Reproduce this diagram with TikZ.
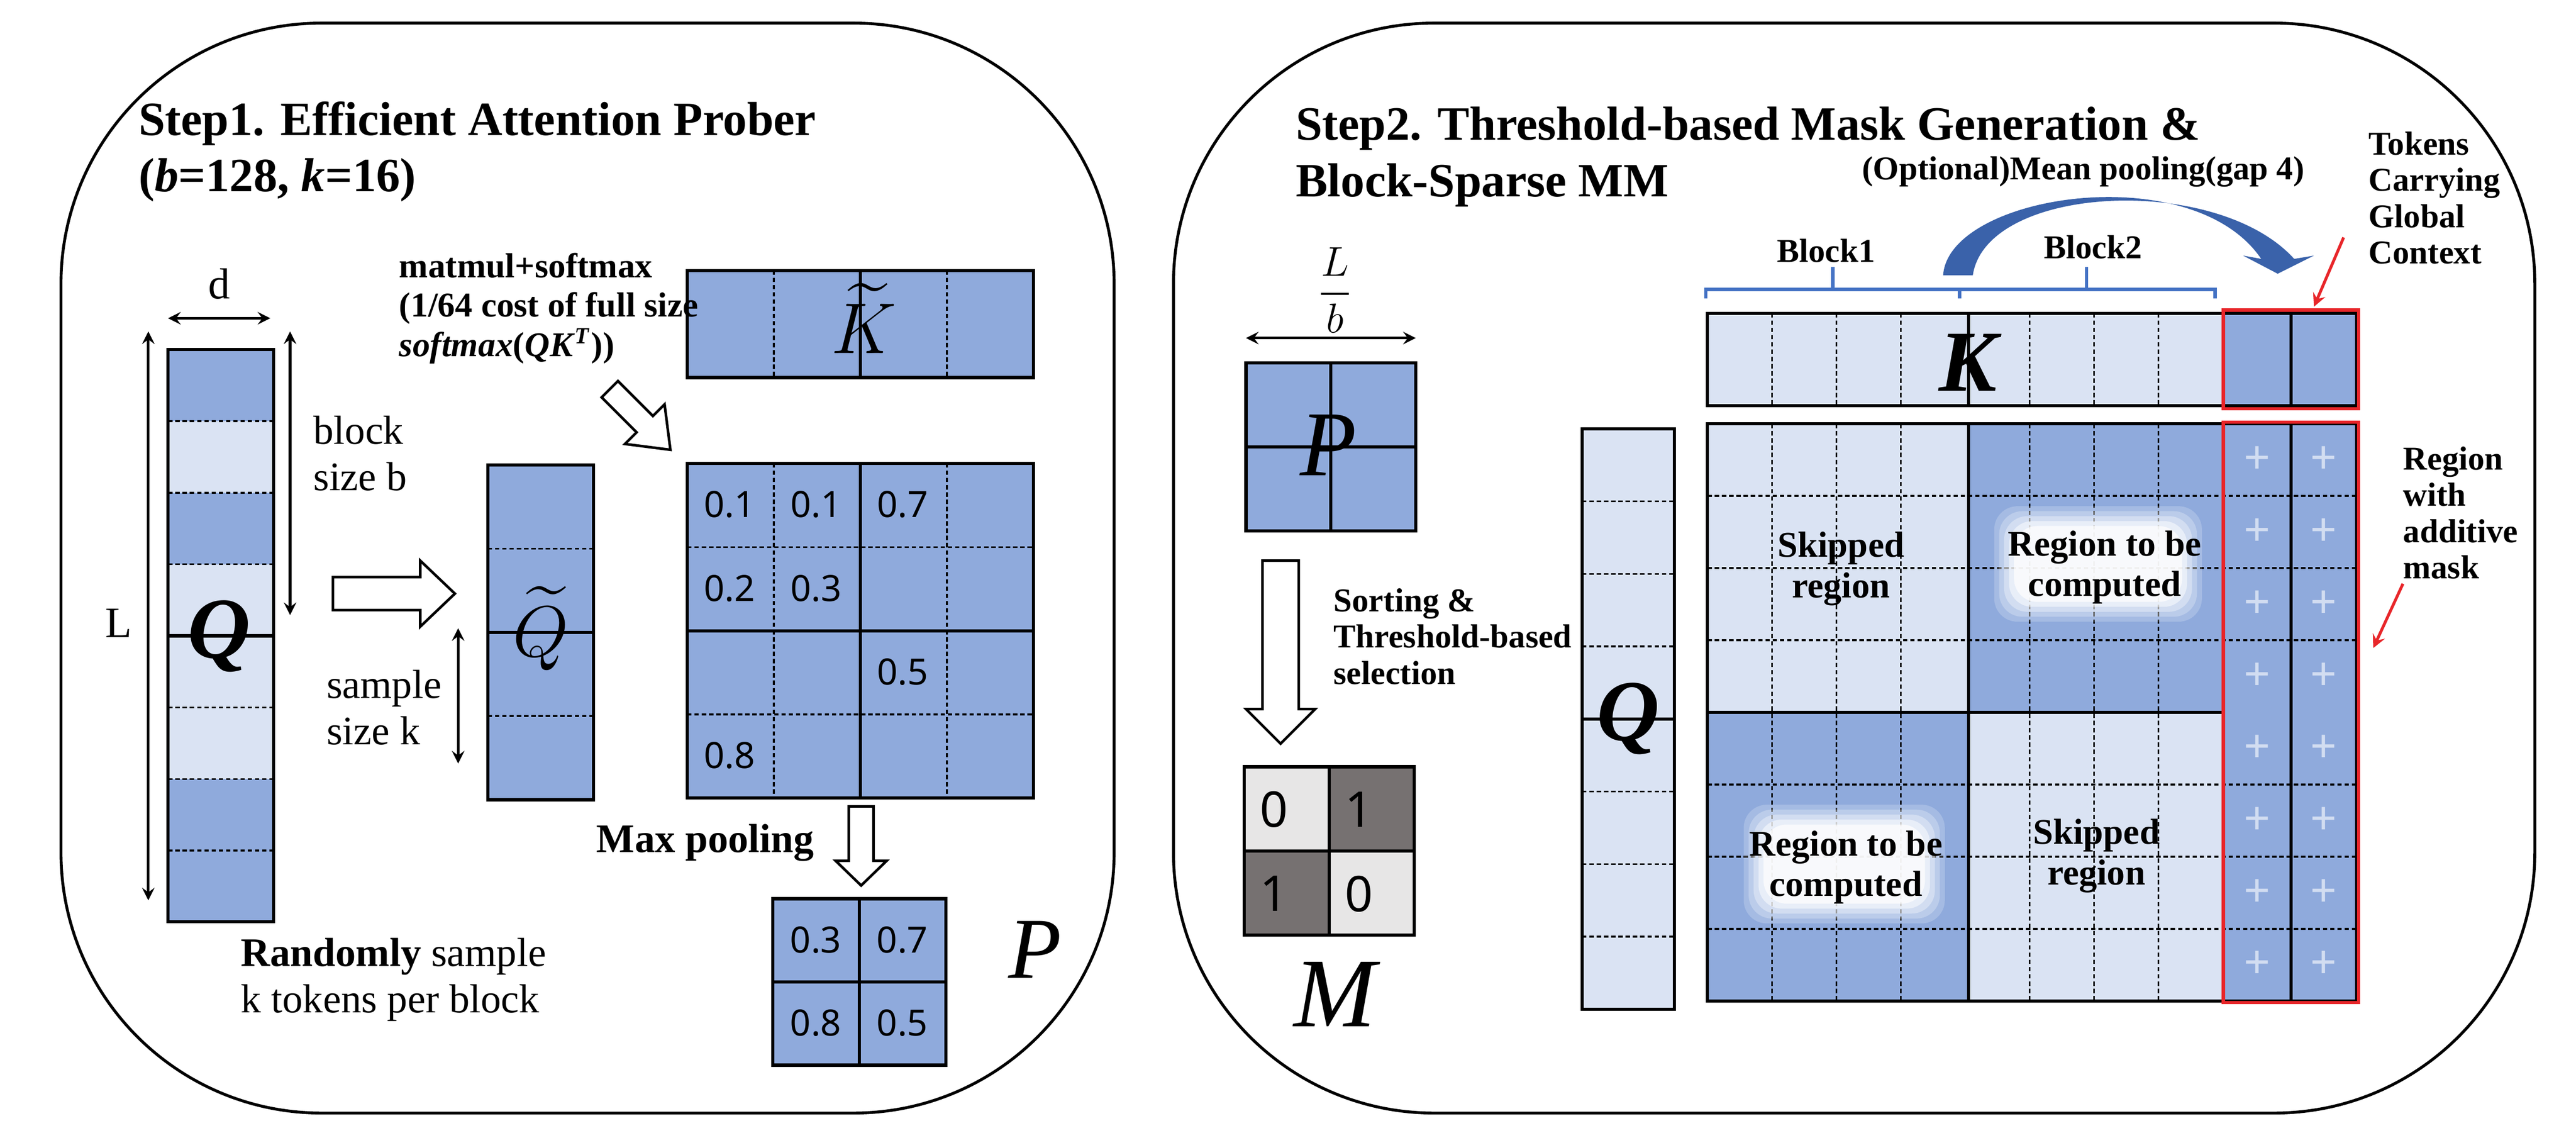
\documentclass[tikz,border=0pt]{standalone}
\usepackage{amsmath}
\usepackage{fontspec}
\setmainfont{Liberation Serif}
\newfontfamily\numf{Noto Sans}
\definecolor{dk}{HTML}{8FAADC}
\definecolor{lt}{HTML}{DAE3F3}
\definecolor{mlt}{HTML}{E7E6E6}
\definecolor{mdk}{HTML}{767171}
\definecolor{rd}{HTML}{E8262A}
\definecolor{bb}{HTML}{4472C4}
\definecolor{arc}{HTML}{3A62AA}
\tikzset{
 bf/.style 2 args={font=\bfseries\fontsize{#1}{#2}\selectfont},
 big/.style={font=\bfseries\itshape\fontsize{#1}{#1}\selectfont},
 cell/.style={draw=black,line width=0.6pt,dashed,dash pattern=on 1.5pt off 1pt},
 solid line/.style={draw=black,line width=1.1pt},
 num/.style={font=\numf\fontsize{12.5}{14}\selectfont},
 lab/.style={font=\fontsize{14}{16}\selectfont,align=left,anchor=west},
 blab/.style={font=\bfseries\fontsize{12.5}{14}\selectfont,align=center},
 dim/.style={<->,>=stealth,line width=0.9pt},
 hollow/.style={draw=black,fill=white,line width=0.9pt,line join=miter},
 panel/.style={draw=black,line width=1pt,rounded corners=90}
}
\begin{document}
\begin{tikzpicture}[x=0.02cm,y=-0.02cm]
\useasboundingbox (0,0) rectangle (1563,687);
% panels
\draw[panel] (37,14) rectangle (676,675);
\draw[panel] (712,14) rectangle (1538,675);
%================ STEP 1
\node[bf={16.5}{19.5},align=left,anchor=west] (t1) at (78,92) {Step1. Efficient Attention Prober\\(\textit{b}=128, \textit{k}=16)};
% Q column
\foreach \i/\c in {0/dk,1/lt,2/dk,3/lt,4/lt,5/lt,6/dk,7/dk}{
  \fill[\c] (102,212+43.4*\i) rectangle (166,212+43.4*\i+43.4);}
\foreach \i in {1,2,3,5,6,7}{\draw[cell] (102,212+43.4*\i) -- (166,212+43.4*\i);}
\draw[solid line] (102,385.6) -- (166,385.6);
\draw[line width=1.1pt] (102,212) rectangle (166,559);
\node[big=30] (q1) at (133,386) {Q};
\coordinate (dl) at (102,193); \coordinate (dr) at (164,193);
\draw[dim] (dl) -- (dr);
\node[font=\fontsize{15}{16}\selectfont] (d) at (133,172) {d};
\coordinate (La) at (90,201); \coordinate (Lb) at (90,546);
\draw[dim] (La) -- (Lb);
\node[font=\fontsize{15}{16}\selectfont] (L) at (72,378) {L};
\coordinate (ba) at (176,201); \coordinate (bb) at (176,373);
\draw[dim] (ba) -- (bb);
\node[lab] (bs) at (184,275) {block\\size b};
\coordinate (sa) at (278,381); \coordinate (sb) at (278,463);
\draw[dim] (sa) -- (sb);
\node[lab] (ss) at (192,429) {sample\\size k};
% big right arrow
\draw[hollow] (202,350) -- (255,350) -- (255,340) -- (276,360) -- (255,380) -- (255,370) -- (202,370) -- cycle;
% Q tilde
\fill[dk] (296,282) rectangle (360,485);
\foreach \i in {1,3}{\draw[cell] (296,282+50.75*\i) -- (360,282+50.75*\i);}
\draw[solid line] (296,383.5) -- (360,383.5);
\draw[line width=1.1pt] (296,282) rectangle (360,485);
\node[font=\fontsize{32}{32}\selectfont] (qt) at (328,381) {$\widetilde{Q}$};
% K tilde
\fill[dk] (417,164) rectangle (627,229);
\foreach \j in {1,3}{\draw[cell] (417+52.5*\j,164) -- (417+52.5*\j,229);}
\draw[solid line] (522,164) -- (522,229);
\draw[line width=1.1pt] (417,164) rectangle (627,229);
\node[font=\fontsize{32}{32}\selectfont] (kt) at (524,193) {$\widetilde{K}$};
% attention matrix
\fill[dk] (417,281) rectangle (627,484);
\foreach \j in {1,3}{\draw[cell] (417+52.5*\j,281) -- (417+52.5*\j,484);
  \draw[cell] (417,281+50.75*\j) -- (627,281+50.75*\j);}
\draw[solid line] (522,281) -- (522,484);
\draw[solid line] (417,382.5) -- (627,382.5);
\draw[line width=1.1pt] (417,281) rectangle (627,484);
\foreach \r/\c/\v in {0/0/0.1,0/1/0.1,0/2/0.7,1/0/0.2,1/1/0.3,2/2/0.5,3/0/0.8}{
  \node[num,anchor=west] (a\r\c) at (421+52.5*\c,306+50.75*\r) {\v};}
\node[bf={12}{13.6},align=left,anchor=west] (mm) at (236,187) {matmul+softmax\\(1/64 cost of full size\\\textit{softmax}(\textit{QK}\textsuperscript{\textit{T}}))};
% diagonal arrow
\begin{scope}[shift={(370,236)},rotate=-45]
\draw[hollow] (0,-7) -- (30,-7) -- (30,-17) -- (52,0) -- (30,17) -- (30,7) -- (0,7) -- cycle;
\end{scope}
% max pooling arrow
\draw[hollow] (515,489) -- (530,489) -- (530,522) -- (538,522) -- (522.5,537) -- (507,522) -- (515,522) -- cycle;
\node[bf={14}{15},anchor=east] (mp) at (500,511) {Max pooling};
% P
\fill[dk] (469,545) rectangle (574,646);
\draw[line width=1.1pt] (469,545) rectangle (574,646);
\draw[solid line] (521.5,545) -- (521.5,646);
\draw[solid line] (469,595.5) -- (574,595.5);
\foreach \r/\c/\v in {0/0/0.3,0/1/0.7,1/0/0.8,1/1/0.5}{
  \node[num] (p\r\c) at (495+52.5*\c,570+50.5*\r) {\v};}
\node[font=\itshape\fontsize{30}{30}\selectfont] (Pl) at (628,576) {P};
\node[lab] (rs) at (140,594) {\textbf{Randomly} sample\\k tokens per block};
%================ STEP 2
\node[bf={16.5}{19.5},align=left,anchor=west] (t2) at (780,95) {Step2. Threshold-based Mask Generation \&\\Block-Sparse MM};
\node[bf={11.5}{12}] (op) at (1264,104) {(Optional)Mean pooling(gap 4)};
\node[bf={11.5}{12.5},align=left,anchor=west] (tok) at (1431,120) {Tokens\\Carrying\\Global\\Context};
\node[bf={11.5}{12}] (b1) at (1108,152) {Block1};
\node[bf={11.5}{12}] (b2) at (1270,150) {Block2};
\draw[bb,line width=1.2pt] (1035,181) -- (1035,175.5) -- (1344,175.5) -- (1344,181);
\draw[bb,line width=1.2pt] (1189,181) -- (1189,175.5);
\draw[bb,line width=1.2pt] (1112,175.5) -- (1112,162);
\draw[bb,line width=1.2pt] (1266,175.5) -- (1266,162);
% curved arrow
\fill[arc] (1179,167) .. controls (1182,118) and (1330,95) .. (1372,157) -- (1361,155) -- (1382,166) -- (1404,155) -- (1392,157)
  .. controls (1345,105) and (1205,112) .. (1197,167) -- cycle;
% K row
\fill[lt] (1036,190) rectangle (1349,246);
\fill[dk] (1349,190) rectangle (1430,246);
\foreach \j in {1,2,3,5,6,7}{\draw[cell] (1036+39.1*\j,190) -- (1036+39.1*\j,246);}
\draw[solid line] (1194.5,190) -- (1194.5,246);
\draw[solid line] (1390,190) -- (1390,246);
\draw[line width=1.1pt] (1036,190) rectangle (1430,246);
\node[big=30] (K) at (1194,220) {K};
\draw[rd,line width=1.1pt] (1349,188) rectangle (1431,248);
% main matrix
\fill[lt] (1036,257) rectangle (1349,607);
\fill[dk] (1194.5,257) rectangle (1349,432);
\fill[dk] (1036,432) rectangle (1194.5,607);
\fill[dk] (1349,257) rectangle (1430,607);
\foreach \j in {1,2,3,5,6,7}{\draw[cell] (1036+39.1*\j,257) -- (1036+39.1*\j,607);}
\foreach \i in {1,2,3,5,6,7}{\draw[cell] (1036,257+43.75*\i) -- (1430,257+43.75*\i);}
\draw[solid line] (1194.5,257) -- (1194.5,607);
\draw[solid line] (1036,432) -- (1349,432);
\draw[solid line] (1390,257) -- (1390,607);
\draw[line width=1.1pt] (1036,257) rectangle (1430,607);
\draw[rd,line width=1.1pt] (1349,256) rectangle (1431,608);
\foreach \i in {0,...,7}{\foreach \j in {0,1}{
  \node[font=\numf\fontsize{16}{16}\selectfont,text=white,opacity=0.6] (pl\i\j) at (1369.5+40.5*\j,279+43.75*\i) {+};}}
% blurred white boxes
\foreach \d/\o in {0/0.2,3/0.25,6/0.35,9/0.5,12/0.7}{
  \fill[white,opacity=\o,rounded corners=8] (1210+\d,307+\d) rectangle (1336-\d,377-\d);
  \fill[white,opacity=\o,rounded corners=8] (1058+\d,488+\d) rectangle (1180-\d,560-\d);}
\node[blab] (sk1) at (1117,345) {Skipped\\region};
\node[blab] (rc1) at (1277,344) {Region to be\\computed};
\node[blab] (rc2) at (1120,526) {Region to be\\computed};
\node[blab] (sk2) at (1272,519) {Skipped\\region};
% Q column right
\fill[lt] (960,260) rectangle (1016,612);
\foreach \i in {1,2,3,5,6,7}{\draw[cell] (960,260+44*\i) -- (1016,260+44*\i);}
\draw[solid line] (960,436) -- (1016,436);
\draw[line width=1.1pt] (960,260) rectangle (1016,612);
\node[big=30] (Q2) at (988,436) {Q};
% region label and red arrows
\node[bf={11.5}{12.5},align=left,anchor=west] (rwam) at (1452,311) {Region\\with\\additive\\mask};
\coordinate (r1a) at (1422,144); \coordinate (r1b) at (1404,186);
\draw[rd,line width=1pt,-stealth] (r1a) -- (r1b);
\coordinate (r2a) at (1458,354); \coordinate (r2b) at (1440,393);
\draw[rd,line width=1pt,-stealth] (r2a) -- (r2b);
% P block
\node[font=\fontsize{14}{14}\selectfont] (Lb2) at (810,176) {$\dfrac{L}{b}$};
\coordinate (pa) at (756,205); \coordinate (pb) at (859,205);
\draw[dim] (pa) -- (pb);
\fill[dk] (756,220) rectangle (859,322);
\draw[line width=1.1pt] (756,220) rectangle (859,322);
\draw[solid line] (807.5,220) -- (807.5,322);
\draw[solid line] (756,271) -- (859,271);
\node[font=\itshape\fontsize{32}{32}\selectfont] (P2) at (806,270) {P};
% down hollow arrow
\draw[hollow] (766,340) -- (788,340) -- (788,430) -- (798,430) -- (777,451) -- (756,430) -- (766,430) -- cycle;
\node[bf={11.5}{12.5},align=left,anchor=west] (sort) at (803,386) {Sorting \&\\Threshold-based\\selection};
% M
\fill[mlt] (755,465) rectangle (806.5,516);
\fill[mdk] (806.5,465) rectangle (858,516);
\fill[mdk] (755,516) rectangle (806.5,567);
\fill[mlt] (806.5,516) rectangle (858,567);
\draw[line width=1.1pt] (755,465) rectangle (858,567);
\draw[solid line] (806.5,465) -- (806.5,567);
\draw[solid line] (755,516) -- (858,516);
\foreach \r/\c/\v in {0/0/0,0/1/1,1/0/1,1/1/0}{
  \node[font=\numf\fontsize{17}{17}\selectfont] (m\r\c) at (773+51.5*\c,491+51*\r) {\v};}
\node[font=\itshape\fontsize{34}{34}\selectfont] (Ml) at (810,603) {M};
\end{tikzpicture}
\end{document}
